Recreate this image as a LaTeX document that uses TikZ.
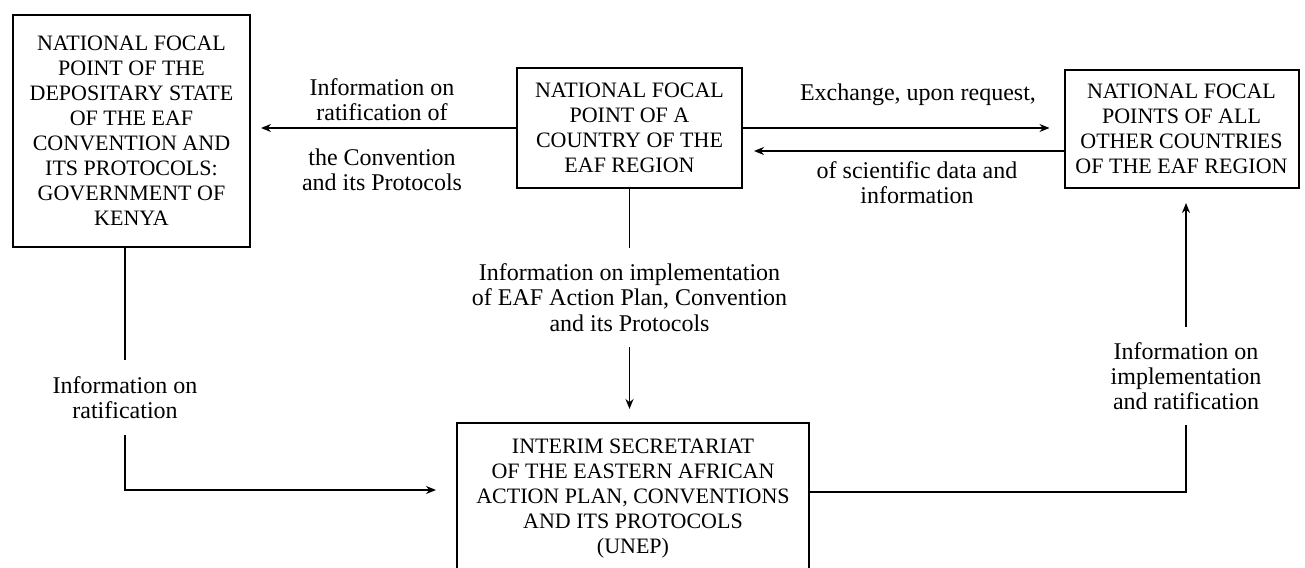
\documentclass[tikz,border=0pt]{standalone}
\usepackage{fontspec}
\setmainfont{Liberation Serif}
\usetikzlibrary{arrows.meta}
\begin{document}
\begin{tikzpicture}[x=0.5pt,y=-0.5pt,
  box/.style={draw,line width=1pt,align=center,inner sep=0pt,font=\fontsize{11}{12.5}\selectfont},
  lab/.style={align=center,inner sep=0pt,font=\fontsize{12}{12.6}\selectfont},
  conn/.style={line width=0.8pt},
  arr/.style={conn,-{Stealth[length=5pt,width=4pt]}}]
\useasboundingbox (0,0) rectangle (1305,567);
\node[box,minimum width=118.5pt,minimum height=116pt] (L) at (131.5,131)
  {NATIONAL FOCAL\\POINT OF THE\\DEPOSITARY STATE\\OF THE EAF\\CONVENTION AND\\ITS PROTOCOLS:\\GOVERNMENT OF\\KENYA};
\node[box,minimum width=112.5pt,minimum height=60pt] (M) at (629.5,128)
  {NATIONAL FOCAL\\POINT OF A\\COUNTRY OF THE\\EAF REGION};
\node[box,minimum width=117pt,minimum height=59pt] (R) at (1181.5,129)
  {NATIONAL FOCAL\\POINTS OF ALL\\OTHER COUNTRIES\\OF THE EAF REGION};
\node[box,minimum width=176pt,minimum height=76pt] (B) at (633,499)
  {INTERIM SECRETARIAT\\OF THE EASTERN AFRICAN\\ACTION PLAN, CONVENTIONS\\AND ITS PROTOCOLS\\(UNEP)};

\node[lab] (t1) at (382,100) {Information on\\ratification of};
\node[lab] (t2) at (382,170) {the Convention\\and its Protocols};
\node[lab] (t3) at (918,95) {Exchange, upon request,};
\node[lab] (t4) at (917,183) {of scientific data and\\information};
\node[lab,minimum height=49.5pt] (t5) at (629.5,297.5) {Information on implementation\\of EAF Action Plan, Convention\\and its Protocols};
\node[lab,minimum height=37.5pt] (t6) at (125,397.5) {Information on\\ratification};
\node[lab,minimum height=49pt] (t7) at (1186,376) {Information on\\implementation\\and ratification};

\draw[arr,shorten >=5pt] (M.west) -- (M.west -| L.east);
\draw[arr,shorten >=7pt] (M.east) -- (M.east -| R.west);
\draw[arr,shorten >=5.5pt] ([yshift=-11pt]R.west) -- ([yshift=-11pt]R.west -| M.east);

\draw[conn] (M.south) -- (t5.north);
\draw[arr,shorten >=6.5pt] (t5.south) -- (t5.south |- B.north);

\draw[conn] (t6.north |- L.south) -- (t6.north);
\draw[arr,shorten >=10pt] (t6.south) |- ([yshift=4.5pt]B.west);

\draw[conn] ([yshift=3.5pt]B.east) -| (t7.south);
\draw[arr,shorten >=7pt] (t7.north) -- (t7.north |- R.south);
\end{tikzpicture}
\end{document}
